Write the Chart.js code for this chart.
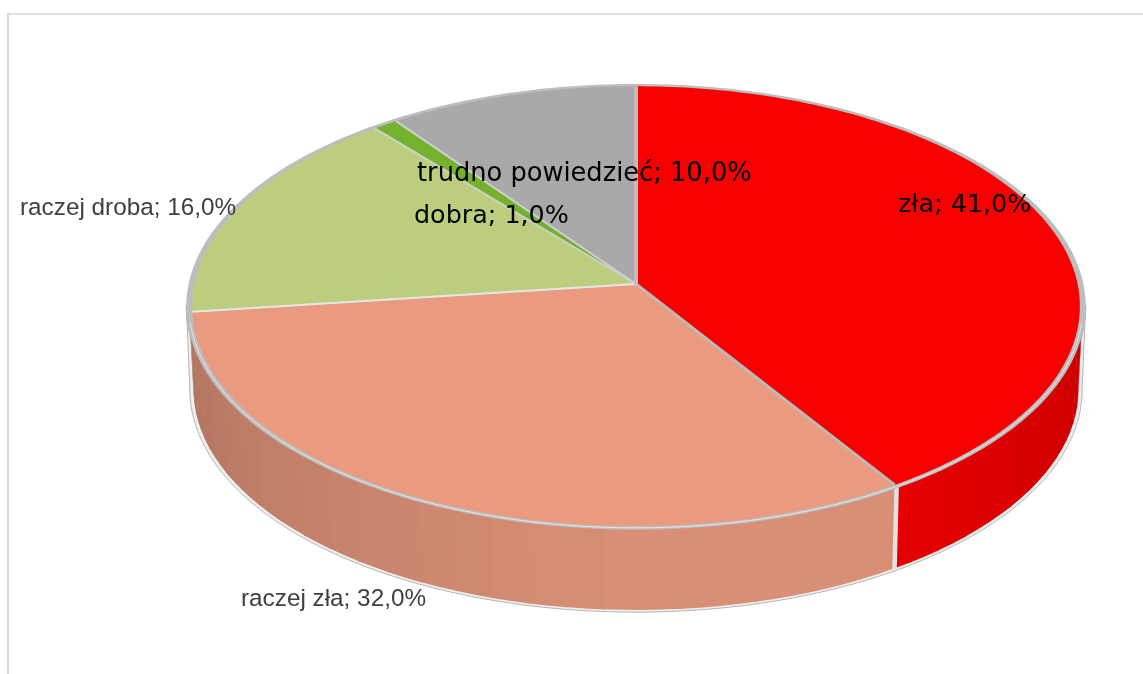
<!DOCTYPE html>
<html><head><meta charset="utf-8">
<style>
html,body{margin:0;padding:0;background:#fff;overflow:hidden}
#frame{position:absolute;left:7px;top:13px;right:-5px;bottom:-5px;border-left:2px solid #d9d9d9;border-top:2px solid #e0e0e0}
canvas{position:absolute;left:0;top:0}
</style>
<script src="https://cdn.jsdelivr.net/npm/chart.js@4"></script>
</head><body>
<div id="frame"></div>
<canvas id="c" width="1143" height="674"></canvas>
<script>
const categories = ['zła','raczej zła','raczej droba','dobra','trudno powiedzieć'];
const values = [41,32,16,1,10];
const colors = ['#f60000','#e99a7f','#bcce7d','#74b12c','#a9a9a9'];
const labelFonts = ['DejaVu Sans','Liberation Sans','Liberation Sans','DejaVu Sans','DejaVu Sans'];
const labelColors = ['#000','#404040','#404040','#000','#000'];
const labelSizes = [25.4,24.3,24.3,25.4,25.7];
const labelX = [898,241,20,414,417];
const labelY = [212,606,215,223,181];
const seamColors = ['#bababa','#e6e6e6','#cfcfcf','#cfcfcf','#bdbdbd'];
const seamWidths = [3,2,2,2,4];

const CX=636,CY=284,A=444.7,B=219.2,P=0.1016,SHRINK=0.992,DEPTH=83;
const D=Math.PI/180;
function proj(t,r){const u=r*Math.sin(t),v=r*Math.cos(t),w=1+P*v;return [CX+A*u/w,CY-B*v/w];}
function low(t,r){const p=proj(t,r);return [CX+(p[0]-CX)*SHRINK,CY+DEPTH+(p[1]-CY)*0.998];}
const shadeAngles=[95,147,180,225,264];
const shadeVals=[0.82,0.93,0.93,0.84,0.745];
function shade(deg){
  for(let i=1;i<shadeAngles.length;i++){
    if(deg<=shadeAngles[i]){const f=(deg-shadeAngles[i-1])/(shadeAngles[i]-shadeAngles[i-1]);
      return shadeVals[i-1]+f*(shadeVals[i]-shadeVals[i-1]);}
  }
  return shadeVals[shadeVals.length-1];
}
function rgb(hex,k){const n=parseInt(hex.slice(1),16);
  return `rgb(${Math.round((n>>16&255)*k)},${Math.round((n>>8&255)*k)},${Math.round((n&255)*k)})`;}
function arcPath(ctx,fn,a,b,r,move){
  const n=Math.max(2,Math.ceil((b-a)/D));
  for(let i=0;i<=n;i++){const p=fn(a+(b-a)*i/n,r);(i==0&&move)?ctx.moveTo(p[0],p[1]):ctx.lineTo(p[0],p[1]);}
}
const pie3d={id:'pie3d',
  beforeDatasetsDraw(chart){
    const ctx=chart.ctx, els=chart.getDatasetMeta(0).data;
    const ang=els.map(e=>[e.startAngle+Math.PI/2,e.endAngle+Math.PI/2]);
    const T0=95.5*D,T1=264.5*D,RO=1.006,RI=0.993;
    ctx.save();ctx.lineJoin='round';
    ctx.beginPath();arcPath(ctx,proj,T0,T1,RO,true);
    for(let i=0;i<=170;i++){const p=low(T1+(T0-T1)*i/170,RO);ctx.lineTo(p[0],p[1]);}
    ctx.closePath();ctx.fillStyle='#eeeeee';ctx.fill();
    ctx.strokeStyle='#b4b4b4';ctx.lineWidth=1;ctx.stroke();
    const STEP=4.5*D;
    els.forEach((e,i)=>{
      const a=Math.max(ang[i][0],T0),b=Math.min(ang[i][1],T1);
      if(b<=a)return;
      for(let t=a;t<b;t+=STEP){
        const t2=Math.min(t+STEP,b);
        const te=t2+(t2<b?0.3*D:0);
        ctx.beginPath();arcPath(ctx,proj,t,te,1.0,true);
        arcPath(ctx,low,te,t,0.998,false);ctx.closePath();
        ctx.fillStyle=rgb(colors[i],shade((t+t2)/2/D));ctx.fill();
      }
    });
    const s=ang[0][1],sa=proj(s,1),sb=low(s,1);
    ctx.beginPath();ctx.moveTo(sa[0],sa[1]);ctx.lineTo(sb[0],sb[1]);
    ctx.strokeStyle='#e2e2e2';ctx.lineWidth=4.5;ctx.stroke();
    // rim: grey ring with a lighter front highlight
    ctx.beginPath();arcPath(ctx,proj,0,2*Math.PI,RO,true);ctx.closePath();
    ctx.fillStyle='#bdbdbd';ctx.fill();
    ctx.beginPath();arcPath(ctx,proj,100*D,260*D,0.9995,true);
    ctx.strokeStyle='#e4e4e4';ctx.lineWidth=1;ctx.stroke();
    els.forEach((e,i)=>{
      ctx.beginPath();ctx.moveTo(CX,CY);arcPath(ctx,proj,ang[i][0],ang[i][1],RI,false);ctx.closePath();
      ctx.fillStyle=colors[i];ctx.fill();
    });
    els.forEach((e,i)=>{
      const p=proj(ang[i][1],RI);
      ctx.beginPath();ctx.moveTo(CX,CY);ctx.lineTo(p[0],p[1]);
      ctx.strokeStyle=seamColors[i];ctx.lineWidth=seamWidths[i];ctx.stroke();
    });
    ctx.textBaseline='alphabetic';ctx.textAlign='left';
    categories.forEach((c,i)=>{
      ctx.font=labelSizes[i]+'px "'+labelFonts[i]+'"';ctx.fillStyle=labelColors[i];
      ctx.fillText(c+'; '+values[i].toFixed(1).replace('.',',')+'%',labelX[i],labelY[i]);
    });
    ctx.restore();
    return false;
  }
};
new Chart(document.getElementById('c'),{
  type:'pie',
  data:{labels:categories,datasets:[{data:values,backgroundColor:colors}]},
  options:{responsive:false,animation:false,events:[],plugins:{legend:{display:false},tooltip:{enabled:false}}},
  plugins:[pie3d]
});
</script>
</body></html>
